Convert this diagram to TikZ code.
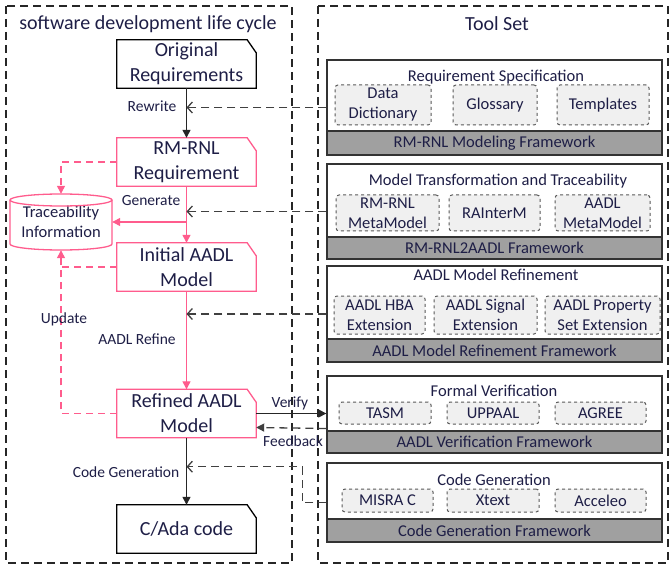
\documentclass[tikz,border=0pt]{standalone}
\usepackage{fontspec}
\setmainfont{Carlito}
\usetikzlibrary{arrows.meta}

\definecolor{rosy}{RGB}{255,92,141}
\definecolor{ink}{RGB}{30,30,70}
\definecolor{bandgray}{RGB}{160,160,160}
\definecolor{itemgray}{RGB}{240,240,240}

\tikzset{
  lifebox/.style={minimum width=139pt, minimum height=48pt,
    inner sep=0pt, align=center, text=ink, font=\fontsize{20}{25}\selectfont},
  lbl/.style={text=ink, inner sep=0pt, font=\fontsize{15.5}{18}\selectfont},
  toolframe/.style={draw=black!80, line width=1.3pt, fill=white, inner sep=0pt, minimum width=335pt},
  toolband/.style={draw=black!80, line width=1.3pt, fill=bandgray, inner sep=0pt, minimum width=335pt,
    text=ink, font=\fontsize{16.5}{19}\selectfont},
  tooltitle/.style={text=ink, inner sep=0pt, font=\fontsize{16.5}{19}\selectfont},
  toolitem/.style={draw=black!65, dashed, line width=1pt, fill=itemgray, rounded corners=3pt,
    inner sep=0pt, align=center, text=ink, font=\fontsize{16.5}{20}\selectfont},
  frameline/.style={draw=black!85, line width=1.3pt, dash pattern=on 8pt off 5pt},
  sarrow/.style={draw=black!85, line width=1.3pt, -{Triangle[length=8pt,width=8pt]}},
  parrow/.style={draw=rosy, line width=1.3pt, -{Triangle[length=8pt,width=8pt]}},
  pdash/.style={draw=rosy, line width=1.3pt, dash pattern=on 7pt off 5pt},
  darrow/.style={draw=black!75, line width=1.3pt, dash pattern=on 8pt off 5pt,
    -{Straight Barb[length=5pt,width=11pt]}},
}

\begin{document}
\begin{tikzpicture}[x=1pt, y=-1pt]
    \useasboundingbox (0,0) rectangle (670,567);

    % dashed frames and titles
    \draw[frameline] (6,6) rectangle (292,563);
    \draw[frameline] (318,6) rectangle (668,563);
    \node[lbl, font=\fontsize{20}{23}\selectfont] (sdlc) at (148,24) {software development life cycle};
    \node[lbl, font=\fontsize{20}{23}\selectfont] (toolset) at (497,24) {Tool Set};

    % life cycle boxes
    \node[lifebox] (orig) at (186.5,64) {Original\\Requirements};
    \node[lifebox] (rmrnl) at (186.5,162) {RM-RNL\\Requirement};
    \node[lifebox] (initial) at (186.5,267) {Initial AADL\\Model};
    \node[lifebox] (refined) at (186.5,413.5) {Refined AADL\\Model};
    \node[lifebox] (cada) at (186.5,529) {C/Ada code};
    \foreach \n/\c in {orig/black, rmrnl/rosy, initial/rosy, refined/rosy, cada/black}
        \draw[\c, line width=1.3pt] (\n.south west) -- (\n.north west) -- ([xshift=-9pt]\n.north east)
            -- ([yshift=-13pt]\n.north east) -- (\n.south east) -- cycle;

    % traceability store
    \node[lbl, minimum width=102pt, minimum height=56pt, align=center,
          font=\fontsize{16.5}{20}\selectfont] (trace) at (61,222) {Traceability\\Information};
    \draw[rosy, line width=1.3pt] (61,200) ellipse [x radius=51, y radius=6];
    \draw[rosy, line width=1.3pt] (10,200) -- (10,244) arc[start angle=180, end angle=0, x radius=51, y radius=6] -- (112,200);

    % tool set: frames and bands
    \node[toolframe, minimum height=95pt] (ts1) at (494.5,107.5) {};
    \node[toolband, minimum height=24pt] (band1) at (494.5,143) {RM-RNL Modeling Framework};
    \node[toolframe, minimum height=95pt] (ts2) at (494.5,211.5) {};
    \node[toolband, minimum height=22pt] (band2) at (494.5,248) {RM-RNL2AADL Framework};
    \node[toolframe, minimum height=96pt] (ts3) at (494.5,314) {};
    \node[toolband, minimum height=23pt] (band3) at (494.5,350.5) {AADL Model Refinement Framework};
    \node[toolframe, minimum height=77pt] (ts4) at (494.5,414.5) {};
    \node[toolband, minimum height=22pt] (band4) at (494.5,442) {AADL Verification Framework};
    \node[toolframe, minimum height=79pt] (ts5) at (494.5,502.5) {};
    \node[toolband, minimum height=23pt] (band5) at (494.5,530.5) {Code Generation Framework};

    % tool set: titles
    \node[tooltitle] (title1) at (496,77) {Requirement Specification};
    \node[tooltitle] (title2) at (498,181) {Model Transformation and Traceability};
    \node[tooltitle] (title3) at (496,275) {AADL Model Refinement};
    \node[tooltitle] (title4) at (494,391) {Formal Verification};
    \node[tooltitle] (title5) at (494,480) {Code Generation};

    % tool set: items
    \node[toolitem, minimum width=96pt, minimum height=40pt] (dict) at (383,105) {Data\\Dictionary};
    \node[toolitem, minimum width=84pt, minimum height=40pt] (gloss) at (495,105) {Glossary};
    \node[toolitem, minimum width=92pt, minimum height=40pt] (templ) at (603,105) {Templates};
    \node[toolitem, minimum width=103pt, minimum height=36pt] (rmmeta) at (387.5,213) {RM-RNL\\MetaModel};
    \node[toolitem, minimum width=91pt, minimum height=36pt] (rainter) at (494.5,213) {RAInterM};
    \node[toolitem, minimum width=95pt, minimum height=36pt] (aadlmeta) at (602.5,213) {AADL\\MetaModel};
    \node[toolitem, minimum width=91pt, minimum height=38pt] (hba) at (379.5,315) {AADL HBA\\Extension};
    \node[toolitem, minimum width=103pt, minimum height=38pt] (signal) at (485.5,315) {AADL Signal\\Extension};
    \node[toolitem, minimum width=115pt, minimum height=38pt] (propset) at (602.5,315) {AADL Property\\Set Extension};
    \node[toolitem, minimum width=92pt, minimum height=22pt] (tasm) at (385,413) {TASM};
    \node[toolitem, minimum width=92pt, minimum height=22pt] (uppaal) at (493,413) {UPPAAL};
    \node[toolitem, minimum width=91pt, minimum height=22pt] (agree) at (600.5,413) {AGREE};
    \node[toolitem, minimum width=91pt, minimum height=23pt] (misra) at (387.5,500.5) {MISRA C};
    \node[toolitem, minimum width=92pt, minimum height=23pt] (xtext) at (493,500.5) {Xtext};
    \node[toolitem, minimum width=91pt, minimum height=23pt] (acceleo) at (600.5,500.5) {Acceleo};

    % main flow
    \draw[sarrow] (orig.south) -- (rmrnl.north);
    \draw[parrow] (rmrnl.south) -- (initial.north);
    \draw[parrow] (initial.south) -- (refined.north);
    \draw[sarrow] (refined.south) -- (cada.north);

    % traceability links
    \draw[parrow] (trace.east -| rmrnl.south) -- (trace.east);
    \draw[pdash, -{Triangle[length=8pt,width=8pt]}] (rmrnl.west) -| (trace.north);
    \draw[pdash] (initial.west) -- (initial.west -| trace.south);
    \draw[pdash, -{Triangle[length=8pt,width=8pt]}] (refined.west) -| (trace.south);

    % tool support links
    \draw[darrow] (ts1.west) -- (ts1.west -| orig.south);
    \draw[darrow] (ts2.west) -- (ts2.west -| rmrnl.south);
    \draw[darrow] (ts3.west) -- (ts3.west -| initial.south);
    \draw[sarrow] (refined.east) -- (refined.east -| ts4.west);
    \draw[darrow, -{Triangle[length=8pt,width=8pt]}] ([yshift=-14pt]ts4.west) -- ([yshift=-14pt]refined.east);
    \draw[darrow] (ts5.west) -- ++(-24,0) |- ([yshift=-29pt]refined.south);

    % labels
    \node[lbl] (rewrite) at (152,106) {Rewrite};
    \node[lbl] (generate) at (151,201) {Generate};
    \node[lbl] (update) at (64,319) {Update};
    \node[lbl] (refine) at (137,339) {AADL Refine};
    \node[lbl] (verify) at (290,403) {Verify};
    \node[lbl] (feedback) at (293,441) {Feedback};
    \node[lbl] (codegen) at (126,472) {Code Generation};

\end{tikzpicture}
\end{document}
